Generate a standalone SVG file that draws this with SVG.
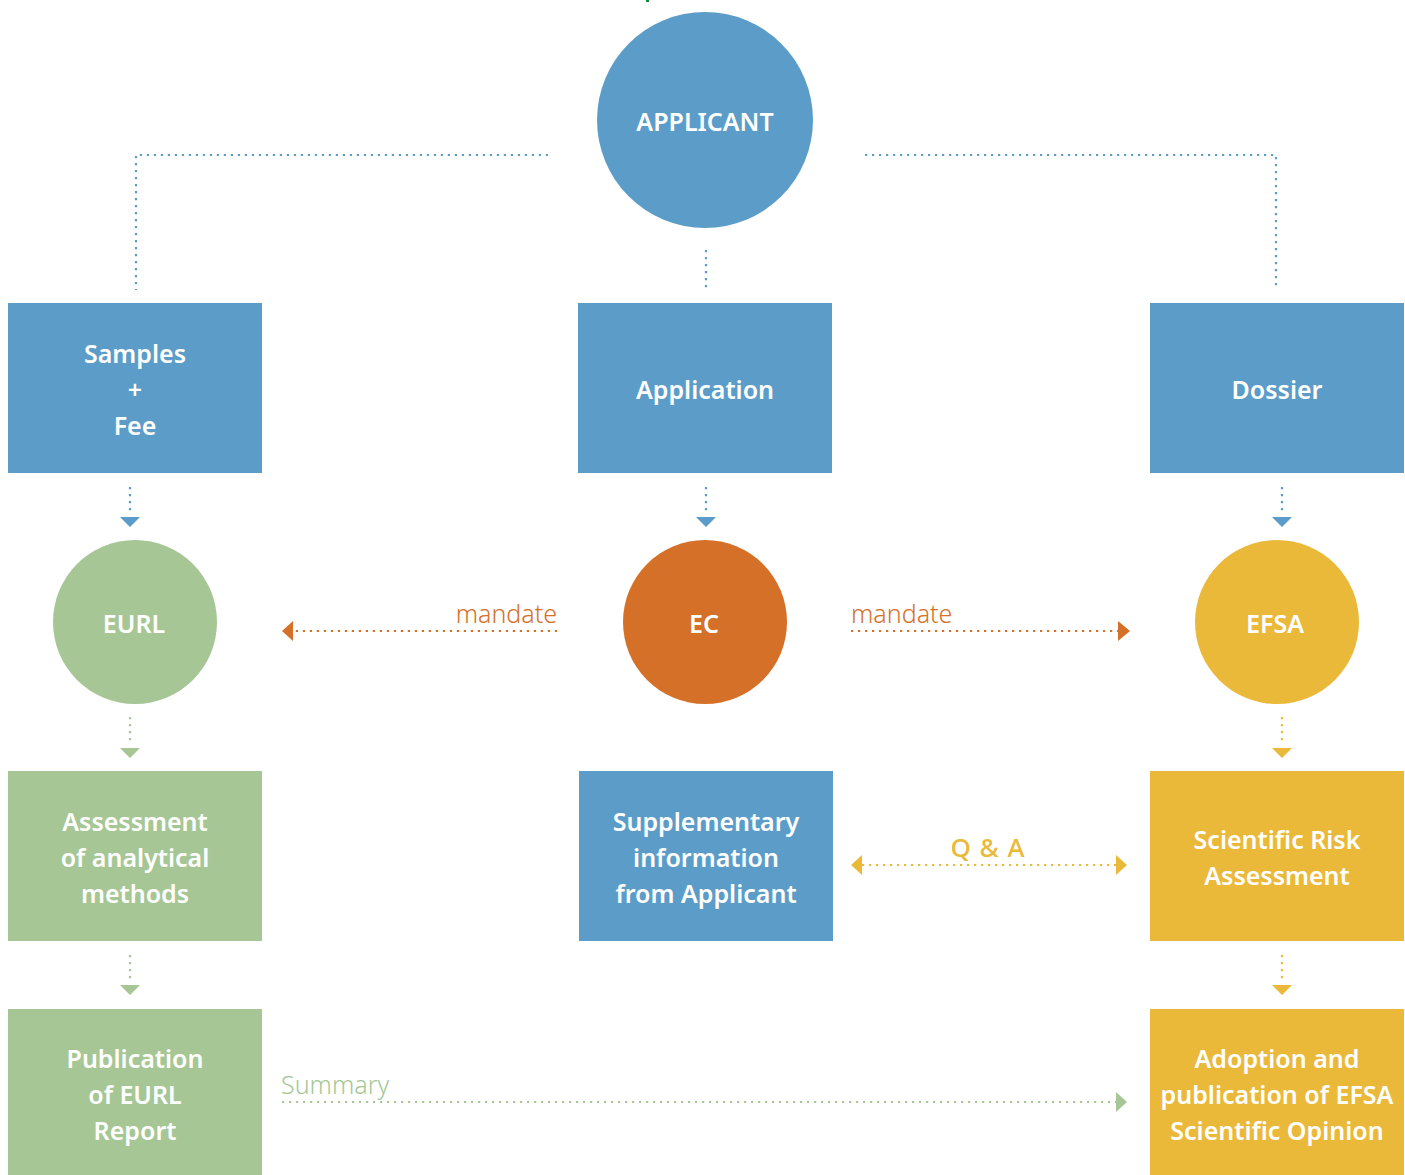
<svg xmlns="http://www.w3.org/2000/svg" width="1405" height="1175" viewBox="0 0 1405 1175">
<style>
.blue{fill:#5B9DC8}.green{fill:#A6C795}.orange{fill:#D57029}.yellow{fill:#EBB93A}
.lbl{font-family:"Noto Sans","Open Sans",sans-serif;font-weight:600;font-size:25px;fill:#fff;text-anchor:middle}
.dot{fill:none;stroke-width:2.2;stroke-dasharray:2.2 4.8}
.cl{font-family:"Noto Sans","Open Sans",sans-serif;font-size:26px}
.thin{font-weight:300;font-size:25px}
</style>
<rect width="1405" height="1175" fill="#fff"/>
<rect x="646" y="0" width="3" height="2" fill="#0a8a3a"/>
<g id="connectors">
  <path class="dot" stroke="#5B9DC8" d="M548 155H136V290M865 155H1276V290M706 250V290"/>
  <path class="dot" stroke="#5B9DC8" d="M130 487V515M706 487V515M1282 487V515"/>
  <path class="blue" d="M120 517h20l-10 10zM696 517h20l-10 10zM1272 517h20l-10 10z"/>
  <path class="dot" stroke="#D57029" d="M557 631H293M851 631H1118"/>
  <path class="orange" d="M282 631l11-10v20zM1130 631l-12-10v20z"/>
  <text class="cl thin" x="557" y="623" fill="#D57029" text-anchor="end">mandate</text>
  <text class="cl thin" x="851" y="623" fill="#D57029">mandate</text>
  <path class="dot" stroke="#A6C795" d="M130 717V745M130 955V983"/>
  <path class="green" d="M120 748h20l-10 10zM120 985h20l-10 10z"/>
  <path class="dot" stroke="#EBB93A" d="M1282 717V745M1282 955V983"/>
  <path class="yellow" d="M1272 748h20l-10 10zM1272 985h20l-10 10z"/>
  <path class="dot" stroke="#EBB93A" d="M862 865H1116"/>
  <path class="yellow" d="M851 865l11-10v20zM1127 865l-11-10v20z"/>
  <text class="cl" x="988" y="857" fill="#EBB93A" text-anchor="middle" font-weight="500" letter-spacing="1">Q &amp; A</text>
  <path class="dot" stroke="#A6C795" d="M282 1102H1116"/>
  <path class="green" d="M1127 1102l-11-10v20z"/>
  <text class="cl thin" x="281" y="1094" fill="#A6C795">Summary</text>
</g>
<g id="applicant"><circle class="blue" cx="705" cy="120" r="108"/><text class="lbl" x="705" y="131" font-weight="500">APPLICANT</text></g>
<g id="samples"><rect class="blue" x="8" y="303" width="254" height="170"/><text class="lbl" x="135" y="363">Samples</text><text class="lbl" x="135" y="399">+</text><text class="lbl" x="135" y="435">Fee</text></g>
<g id="application"><rect class="blue" x="578" y="303" width="254" height="170"/><text class="lbl" x="705" y="399">Application</text></g>
<g id="dossier"><rect class="blue" x="1150" y="303" width="254" height="170"/><text class="lbl" x="1277" y="399">Dossier</text></g>
<g id="eurl"><circle class="green" cx="135" cy="622" r="82"/><text class="lbl" x="134" y="633" font-weight="500">EURL</text></g>
<g id="ec"><circle class="orange" cx="705" cy="622" r="82"/><text class="lbl" x="704" y="633" font-weight="500">EC</text></g>
<g id="efsa"><circle class="yellow" cx="1277" cy="622" r="82"/><text class="lbl" x="1275" y="633" font-weight="500">EFSA</text></g>
<g id="assessment"><rect class="green" x="8" y="771" width="254" height="170"/><text class="lbl" x="135" y="831">Assessment</text><text class="lbl" x="135" y="867">of analytical</text><text class="lbl" x="135" y="903">methods</text></g>
<g id="supplementary"><rect class="blue" x="579" y="771" width="254" height="170"/><text class="lbl" x="706" y="831">Supplementary</text><text class="lbl" x="706" y="867">information</text><text class="lbl" x="706" y="903">from Applicant</text></g>
<g id="risk"><rect class="yellow" x="1150" y="771" width="254" height="170"/><text class="lbl" x="1277" y="849">Scientific Risk</text><text class="lbl" x="1277" y="885">Assessment</text></g>
<g id="publication"><rect class="green" x="8" y="1009" width="254" height="166"/><text class="lbl" x="135" y="1068">Publication</text><text class="lbl" x="135" y="1104">of EURL</text><text class="lbl" x="135" y="1140">Report</text></g>
<g id="adoption"><rect class="yellow" x="1150" y="1009" width="254" height="166"/><text class="lbl" x="1277" y="1068">Adoption and</text><text class="lbl" x="1277" y="1104">publication of EFSA</text><text class="lbl" x="1277" y="1140">Scientific Opinion</text></g>
</svg>
